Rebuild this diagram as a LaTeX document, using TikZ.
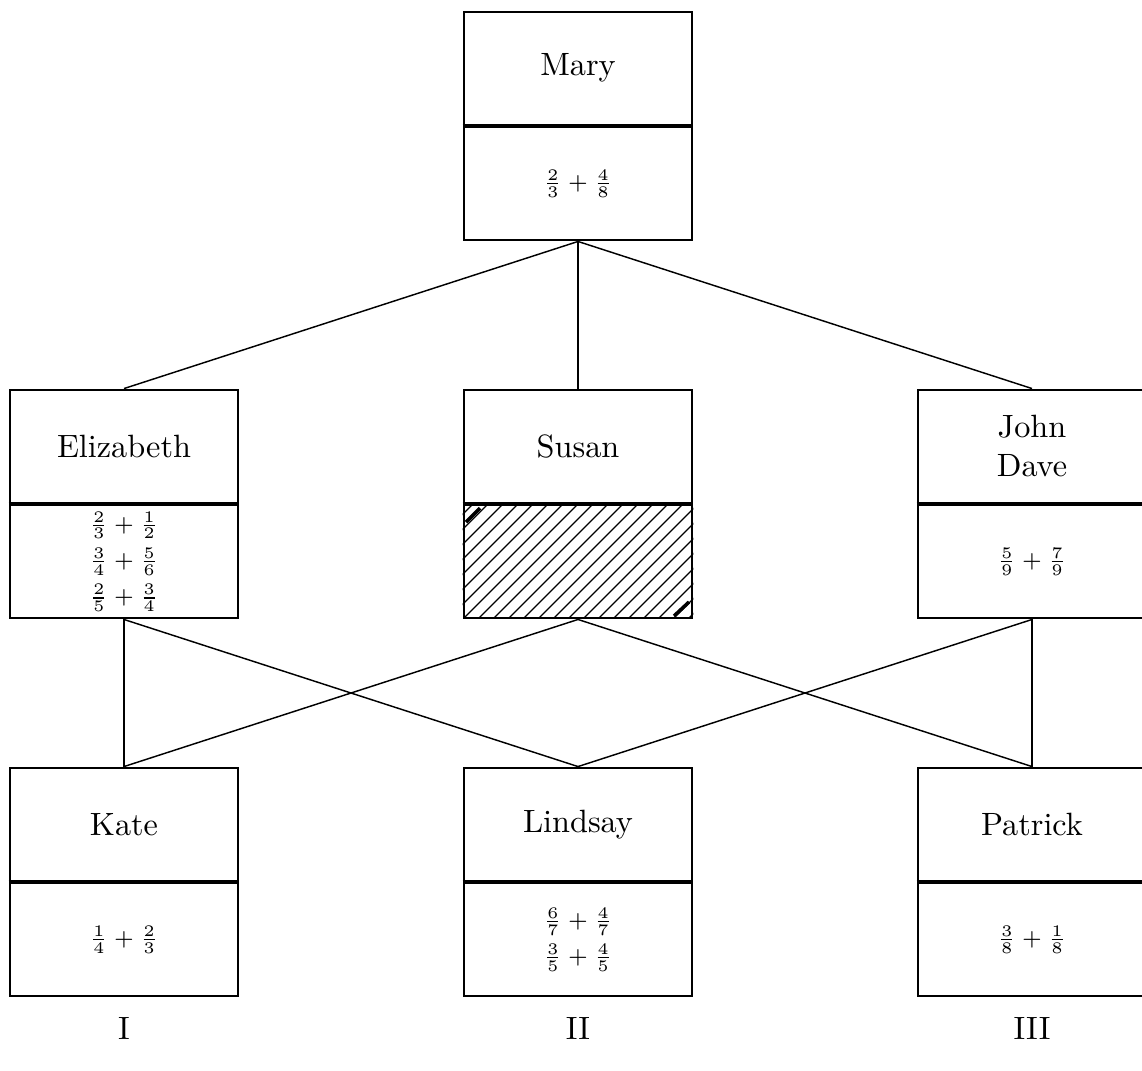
\documentclass[tikz,border=0pt]{standalone}
\usetikzlibrary{calc}
\newcommand\famnode[4]{%
  \node[box] (#1) at (#2) {};
  \draw[divider] (#1.west) -- (#1.east);
  \node[nametext] (#1-n) at ($(#1.north)!0.5!(#1.center)$) {#3};
  \node[sumtext] (#1-s) at ($(#1.south)!0.5!(#1.center)$) {#4};
}
\begin{document}
\begin{tikzpicture}[x=0.31pt,y=-0.31pt,
  box/.style={draw, line width=0.9pt, minimum width=70.68pt, minimum height=70.68pt, inner sep=0pt},
  divider/.style={line width=1.3pt},
  nametext/.style={align=center, inner sep=1pt},
  sumtext/.style={align=center, inner sep=1pt, font=\scriptsize},
  conn/.style={line width=0.45pt},
  hatch/.style={line width=0.4pt},
  roman/.style={inner sep=1pt}]
\useasboundingbox (0,0) rectangle (1142,1070);
\clip (0,0) rectangle (1142,1070);
\famnode{mary}{578,126}{Mary}{$\frac{2}{3}+\frac{4}{8}$}
\famnode{eliz}{124,504}{Elizabeth}{$\frac{2}{3}+\frac{1}{2}$\\[1.9pt]$\frac{3}{4}+\frac{5}{6}$\\[1.9pt]$\frac{2}{5}+\frac{3}{4}$}
\famnode{susan}{578,504}{Susan}{}
\famnode{john}{1032,504}{John\\Dave}{$\frac{5}{9}+\frac{7}{9}$}
\famnode{kate}{124,882}{Kate}{$\frac{1}{4}+\frac{2}{3}$}
\famnode{lind}{578,882}{Lindsay}{$\frac{6}{7}+\frac{4}{7}$\\[1.9pt]$\frac{3}{5}+\frac{4}{5}$}
\famnode{pat}{1032,882}{Patrick}{$\frac{3}{8}+\frac{1}{8}$}
\begin{scope}
  \clip (susan.west) rectangle (susan.south east);
  \foreach \k in {-120,-105,...,240}
    \draw[hatch] (464+\k,618) -- (578+\k,504);
\end{scope}
\draw[line width=1.1pt] (466,522) -- (480,508);
\draw[line width=1.1pt] (674,616) -- (689,602);
\draw[conn] (mary.south) -- (eliz.north);
\draw[conn] (mary.south) -- (susan.north);
\draw[conn] (mary.south) -- (john.north);
\draw[conn] (eliz.south) -- (kate.north);
\draw[conn] (eliz.south) -- (lind.north);
\draw[conn] (susan.south) -- (kate.north);
\draw[conn] (susan.south) -- (pat.north);
\draw[conn] (john.south) -- (lind.north);
\draw[conn] (john.south) -- (pat.north);
\node[roman] (r1) at (124,1028) {I};
\node[roman] (r2) at (578,1028) {II};
\node[roman] (r3) at (1032,1028) {III};
\end{tikzpicture}
\end{document}
